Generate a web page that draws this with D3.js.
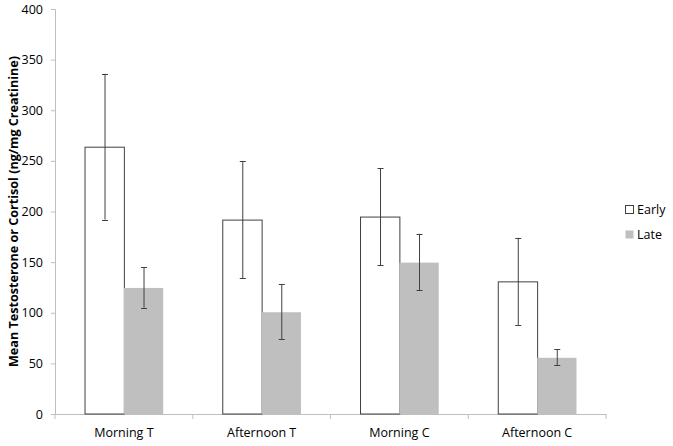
<!DOCTYPE html>
<html><head><meta charset="utf-8">
<script src="https://cdn.jsdelivr.net/npm/d3@7"></script>
<style>
body{margin:0;background:#fff;}
svg text{font-family:"Open Sans",sans-serif;fill:#000;}
</style></head>
<body>
<svg id="chart" width="673" height="446"></svg>
<script>
const categories = ["Morning T","Afternoon T","Morning C","Afternoon C"];
const seriesNames = ["Early","Late"];
const earlyValues = [264, 192, 195, 131];
const lateValues = [125, 101, 150, 56];
const earlyErrors = [72, 58, 48, 43];
const lateErrors = [20, 27, 28, 8];
const yTicks = [0,50,100,150,200,250,300,350,400];
const yTitle = "Mean Testosterone or Cortisol (ng/mg Creatinine)";

const svg = d3.select("#chart");
const mLeft = 55, mRight = 606, mTop = 9, mBottom = 414;

const x0 = d3.scaleBand().domain(categories).range([mLeft, mRight]).paddingInner(0).paddingOuter(0);
const barW = x0.bandwidth() / 3.5;
const x1 = d3.scaleBand().domain(seriesNames).range([0, barW * 2]);
const y = d3.scaleLinear().domain([0, 400]).range([mBottom, mTop]);

const data = categories.map((c, i) => ({
  cat: c,
  bars: [
    {s: "Early", v: earlyValues[i], e: earlyErrors[i]},
    {s: "Late", v: lateValues[i], e: lateErrors[i]}
  ]
}));

// y axis
const yAxis = d3.axisLeft(y).tickValues(yTicks).tickSize(4).tickPadding(8);
const gy = svg.append("g").attr("transform", `translate(${mLeft},0)`).call(yAxis);
gy.select(".domain").attr("stroke", "#bfbfbf");
gy.selectAll(".tick line").attr("stroke", "#bfbfbf");
gy.selectAll(".tick text").attr("font-size", 12.5).attr("fill", "#000");

// x axis
const xAxis = d3.axisBottom(x0).tickSize(0).tickPadding(14);
const gx = svg.append("g").attr("transform", `translate(0,${mBottom})`).call(xAxis);
gx.select(".domain").attr("stroke", "#bfbfbf");
gx.selectAll(".tick text").attr("font-size", 12.5).attr("fill", "#000");
const bounds = categories.map(c => x0(c)).concat([x0(categories[categories.length-1]) + x0.bandwidth()]);
gx.selectAll(".bnd").data(bounds).enter().append("line")
  .attr("x1", d => d).attr("x2", d => d).attr("y1", 0).attr("y2", 5)
  .attr("stroke", "#bfbfbf");

// bars
const groups = svg.selectAll(".grp").data(data).enter().append("g")
  .attr("transform", d => `translate(${x0(d.cat) + (x0.bandwidth() - barW*2)/2},0)`);

groups.selectAll("rect").data(d => d.bars).enter().append("rect")
  .attr("x", d => x1(d.s) + (d.s === "Early" ? 0.5 : 0))
  .attr("y", d => y(d.v) + 0.5)
  .attr("width", d => x1.bandwidth())
  .attr("height", d => mBottom - y(d.v) - 0.5)
  .attr("fill", d => d.s === "Early" ? "#ffffff" : "#bfbfbf")
  .attr("stroke", d => d.s === "Early" ? "#404040" : "none")
  .attr("stroke-width", 1);

// error bars
const cx = d => Math.round(x1(d.s) + x1.bandwidth()/2) + 0.5;
const eb = groups.selectAll(".eb").data(d => d.bars).enter().append("g")
  .attr("stroke", "#404040").attr("stroke-width", 1);
eb.append("line")
  .attr("x1", cx).attr("x2", cx)
  .attr("y1", d => y(d.v + d.e)).attr("y2", d => y(d.v - d.e));
["top","bot"].forEach(k => {
  const yy = d => Math.round(y(k === "top" ? d.v + d.e : d.v - d.e)) + 0.5;
  eb.append("line")
    .attr("x1", d => cx(d) - 3).attr("x2", d => cx(d) + 3)
    .attr("y1", yy).attr("y2", yy);
});

// y title
svg.append("text")
  .attr("transform", `translate(18,${(mTop+mBottom)/2}) rotate(-90)`)
  .attr("text-anchor", "middle")
  .attr("font-size", 12.6)
  .attr("font-weight", "bold")
  .text(yTitle);

// legend
const leg = svg.append("g").attr("transform", "translate(625,0)");
const legY = [210, 235];
seriesNames.forEach((s, i) => {
  leg.append("rect")
    .attr("x", 0.5).attr("y", legY[i] - 4.5).attr("width", 8).attr("height", 8)
    .attr("fill", s === "Early" ? "#fff" : "#bfbfbf")
    .attr("stroke", s === "Early" ? "#404040" : "none");
  leg.append("text").attr("x", 12).attr("y", legY[i]).attr("dy", "0.35em")
    .attr("font-size", 12.5).text(s);
});
</script>
</body></html>
